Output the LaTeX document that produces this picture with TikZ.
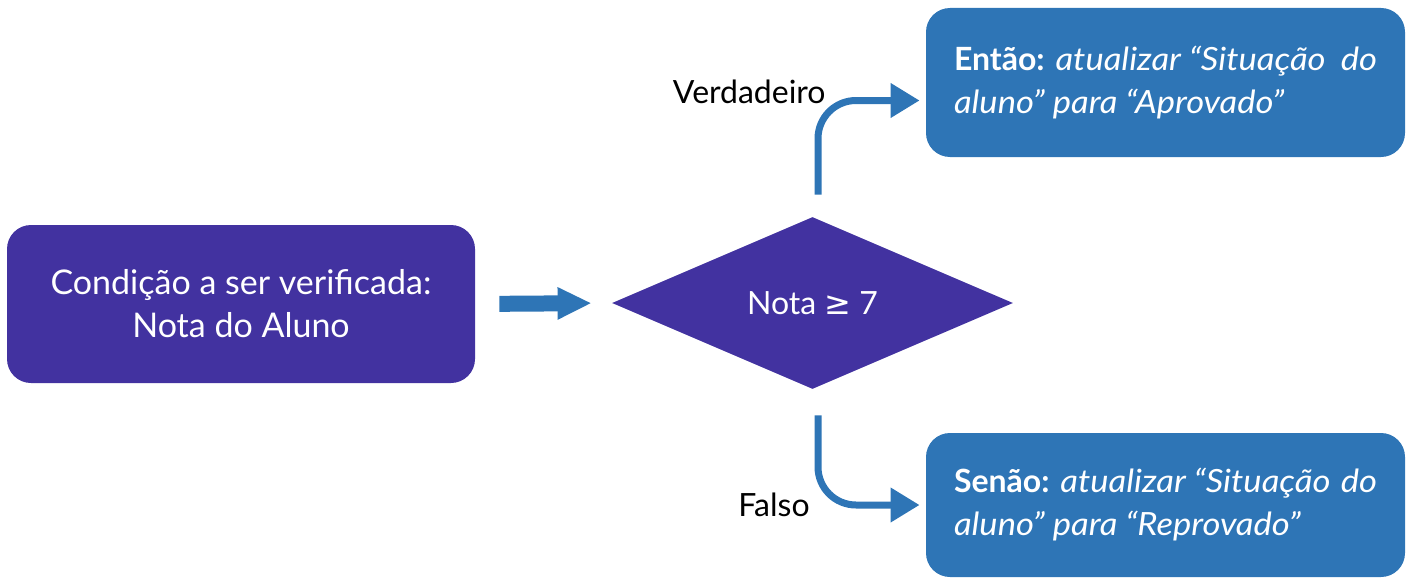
\documentclass[tikz,border=0pt]{standalone}
\usepackage{fontspec}
\setmainfont{Lato}[ItalicFeatures={FakeStretch=1.08}]
\newfontfamily\symfont{DejaVu Sans}
\usetikzlibrary{shapes.geometric,arrows.meta,positioning}
\definecolor{roxo}{HTML}{4232A0}
\definecolor{azul}{HTML}{2E75B6}
\begin{document}
\begin{tikzpicture}[x=1pt, y=1pt,
    caixa/.style={fill=#1, rounded corners=12pt, text=white, inner sep=0pt},
    losango/.style={diamond, fill=roxo, text=white, inner sep=0pt,
        minimum width=200.5pt, minimum height=86pt, font=\fontsize{16}{19}\selectfont},
    seta/.style={azul, line width=3.5pt, rounded corners=19pt,
        -{Triangle[length=14.5pt, width=16.5pt]}},
    rotulo/.style={font=\fontsize{16}{19}\selectfont, inner sep=0pt}]

    % fix the page size
    \useasboundingbox (0,0) rectangle (704,290);

    % Condition box
    \node[caixa=roxo, minimum width=234pt, minimum height=79pt, align=center,
        font=\fontsize{17}{21.5}\selectfont] (cond) at (120.5,138)
        {Condição a ser verificada:\\Nota do Aluno};

    % Decision
    \node[losango] (dec) at (406.25,138.5) {Nota {\symfont≥} 7};

    % Outcome boxes
    \node[caixa=azul, minimum width=239.5pt, minimum height=74.5pt] (sim) at (582.75,248.75)
        {\parbox{211.5pt}{\fontsize{16}{21.5}\selectfont\textbf{Então:} \textit{atualizar “Situação\hfill do\\aluno” para “Aprovado”}}};
    \node[caixa=azul, minimum width=239.5pt, minimum height=72pt] (nao) at (582.75,37.5)
        {\parbox{211.5pt}{\fontsize{16}{21.5}\selectfont\textbf{Senão:} \textit{atualizar “Situação\hfill do\\aluno” para “Reprovado”}}};

    % Arrow into the decision
    \draw[azul, line width=8pt, shorten <=12pt, shorten >=10pt,
        -{Triangle[length=17pt, width=15pt]}] (cond.east) -- (dec.west);

    % Branches
    \draw[seta, shorten >=3pt] ([xshift=2.75pt, yshift=11pt]dec.north) |- ([yshift=-9pt]sim.west);
    \draw[seta, shorten >=3pt] ([xshift=2.75pt, yshift=-13pt]dec.south) |- (nao.west);

    % Labels
    \node[rotulo, anchor=east] (verd) at (413,244) {Verdadeiro};
    \node[rotulo, anchor=east] (falso) at (405,37.5) {Falso};

\end{tikzpicture}
\end{document}
